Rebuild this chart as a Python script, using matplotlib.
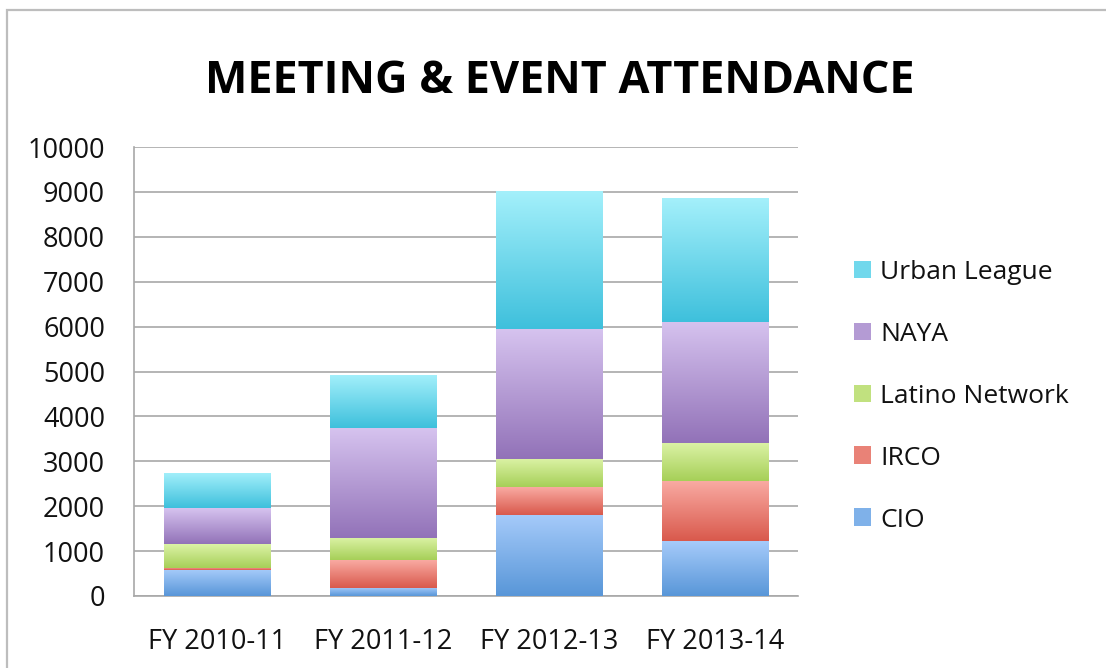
import numpy as np
import matplotlib
matplotlib.use("Agg")
import matplotlib.pyplot as plt
from matplotlib.colors import LinearSegmentedColormap
from matplotlib.patches import Patch, Rectangle

# Data
years = ["FY 2010-11", "FY 2011-12", "FY 2012-13", "FY 2013-14"]
cio = [580, 185, 1815, 1220]
irco = [50, 615, 615, 1335]
latino = [520, 495, 630, 855]
naya = [800, 2445, 2890, 2700]
urban = [800, 1190, 3070, 2750]

series_names = ["CIO", "IRCO", "Latino Network", "NAYA", "Urban League"]
series_values = [cio, irco, latino, naya, urban]
# (top colour, bottom colour) of each gradient fill
series_colors = [
    ("#A6CBFA", "#5896D8"),
    ("#F9AAA2", "#D9594C"),
    ("#DCF3A6", "#A6CF58"),
    ("#D6C3EF", "#9272B8"),
    ("#A4F0FB", "#3EC0DC"),
]

plt.rcParams["font.family"] = ["Open Sans", "DejaVu Sans"]

fig = plt.figure(figsize=(11.06, 6.68), dpi=100)
ax = fig.add_axes([0.1212, 0.1078, 0.6004, 0.6721])

x = np.arange(len(years))
width = 0.64
bottom = np.zeros(len(years))
grad = np.linspace(0, 1, 256).reshape(-1, 1)

for name, vals, (c_top, c_bot) in zip(series_names, series_values, series_colors):
    mid = LinearSegmentedColormap.from_list(name, [c_bot, c_top])(0.5)
    bars = ax.bar(x, vals, width, bottom=bottom, color=mid, label=name,
                  linewidth=0, zorder=2)
    cmap = LinearSegmentedColormap.from_list(name + "_g", [c_bot, c_top])
    for b in bars:
        x0, y0 = b.get_x(), b.get_y()
        im = ax.imshow(grad, extent=[x0, x0 + b.get_width(), y0, y0 + b.get_height()],
                       origin="lower", aspect="auto", cmap=cmap, zorder=3)
        im.set_clip_path(b)
    bottom += np.array(vals)

ax.set_xlim(-0.5, 3.5)
ax.set_ylim(0, 10000)
ax.set_yticks(range(0, 10001, 1000))
ax.set_xticks(x)
ax.set_xticklabels(years)
ax.tick_params(axis="y", length=0, pad=21, labelsize=19.5, colors="#111111")
ax.tick_params(axis="x", length=0, pad=23, labelsize=19.5, colors="#111111")

ax.set_axisbelow(True)
ax.yaxis.grid(True, color="#A8A8A8", linewidth=1.2)
for side in ["top", "right"]:
    ax.spines[side].set_visible(False)
for side in ["left", "bottom"]:
    ax.spines[side].set_color("#A8A8A8")
    ax.spines[side].set_linewidth(1.2)

handles = [Patch(facecolor=LinearSegmentedColormap.from_list("h", [cb, ct])(0.5))
           for ct, cb in series_colors]
leg = fig.legend(handles[::-1], series_names[::-1], loc="center left",
                 bbox_to_anchor=(0.7505, 0.407), frameon=False, fontsize=19,
                 handlelength=0.65, handleheight=0.65, handletextpad=0.35,
                 labelspacing=1.4)
for t in leg.get_texts():
    t.set_color("#111111")

fig.text(560 / 1106, 1 - 93 / 668, "MEETING & EVENT ATTENDANCE", ha="center",
         va="baseline", fontsize=32.4, fontweight="bold", color="black")

# light frame around the chart area
fig.add_artist(Rectangle((7 / 1106, -0.05), 1.1, 1.05 - 10 / 668,
                         transform=fig.transFigure, fill=False,
                         edgecolor="#BDBDBD", linewidth=1.6))

fig.savefig("out.png", dpi=100)
